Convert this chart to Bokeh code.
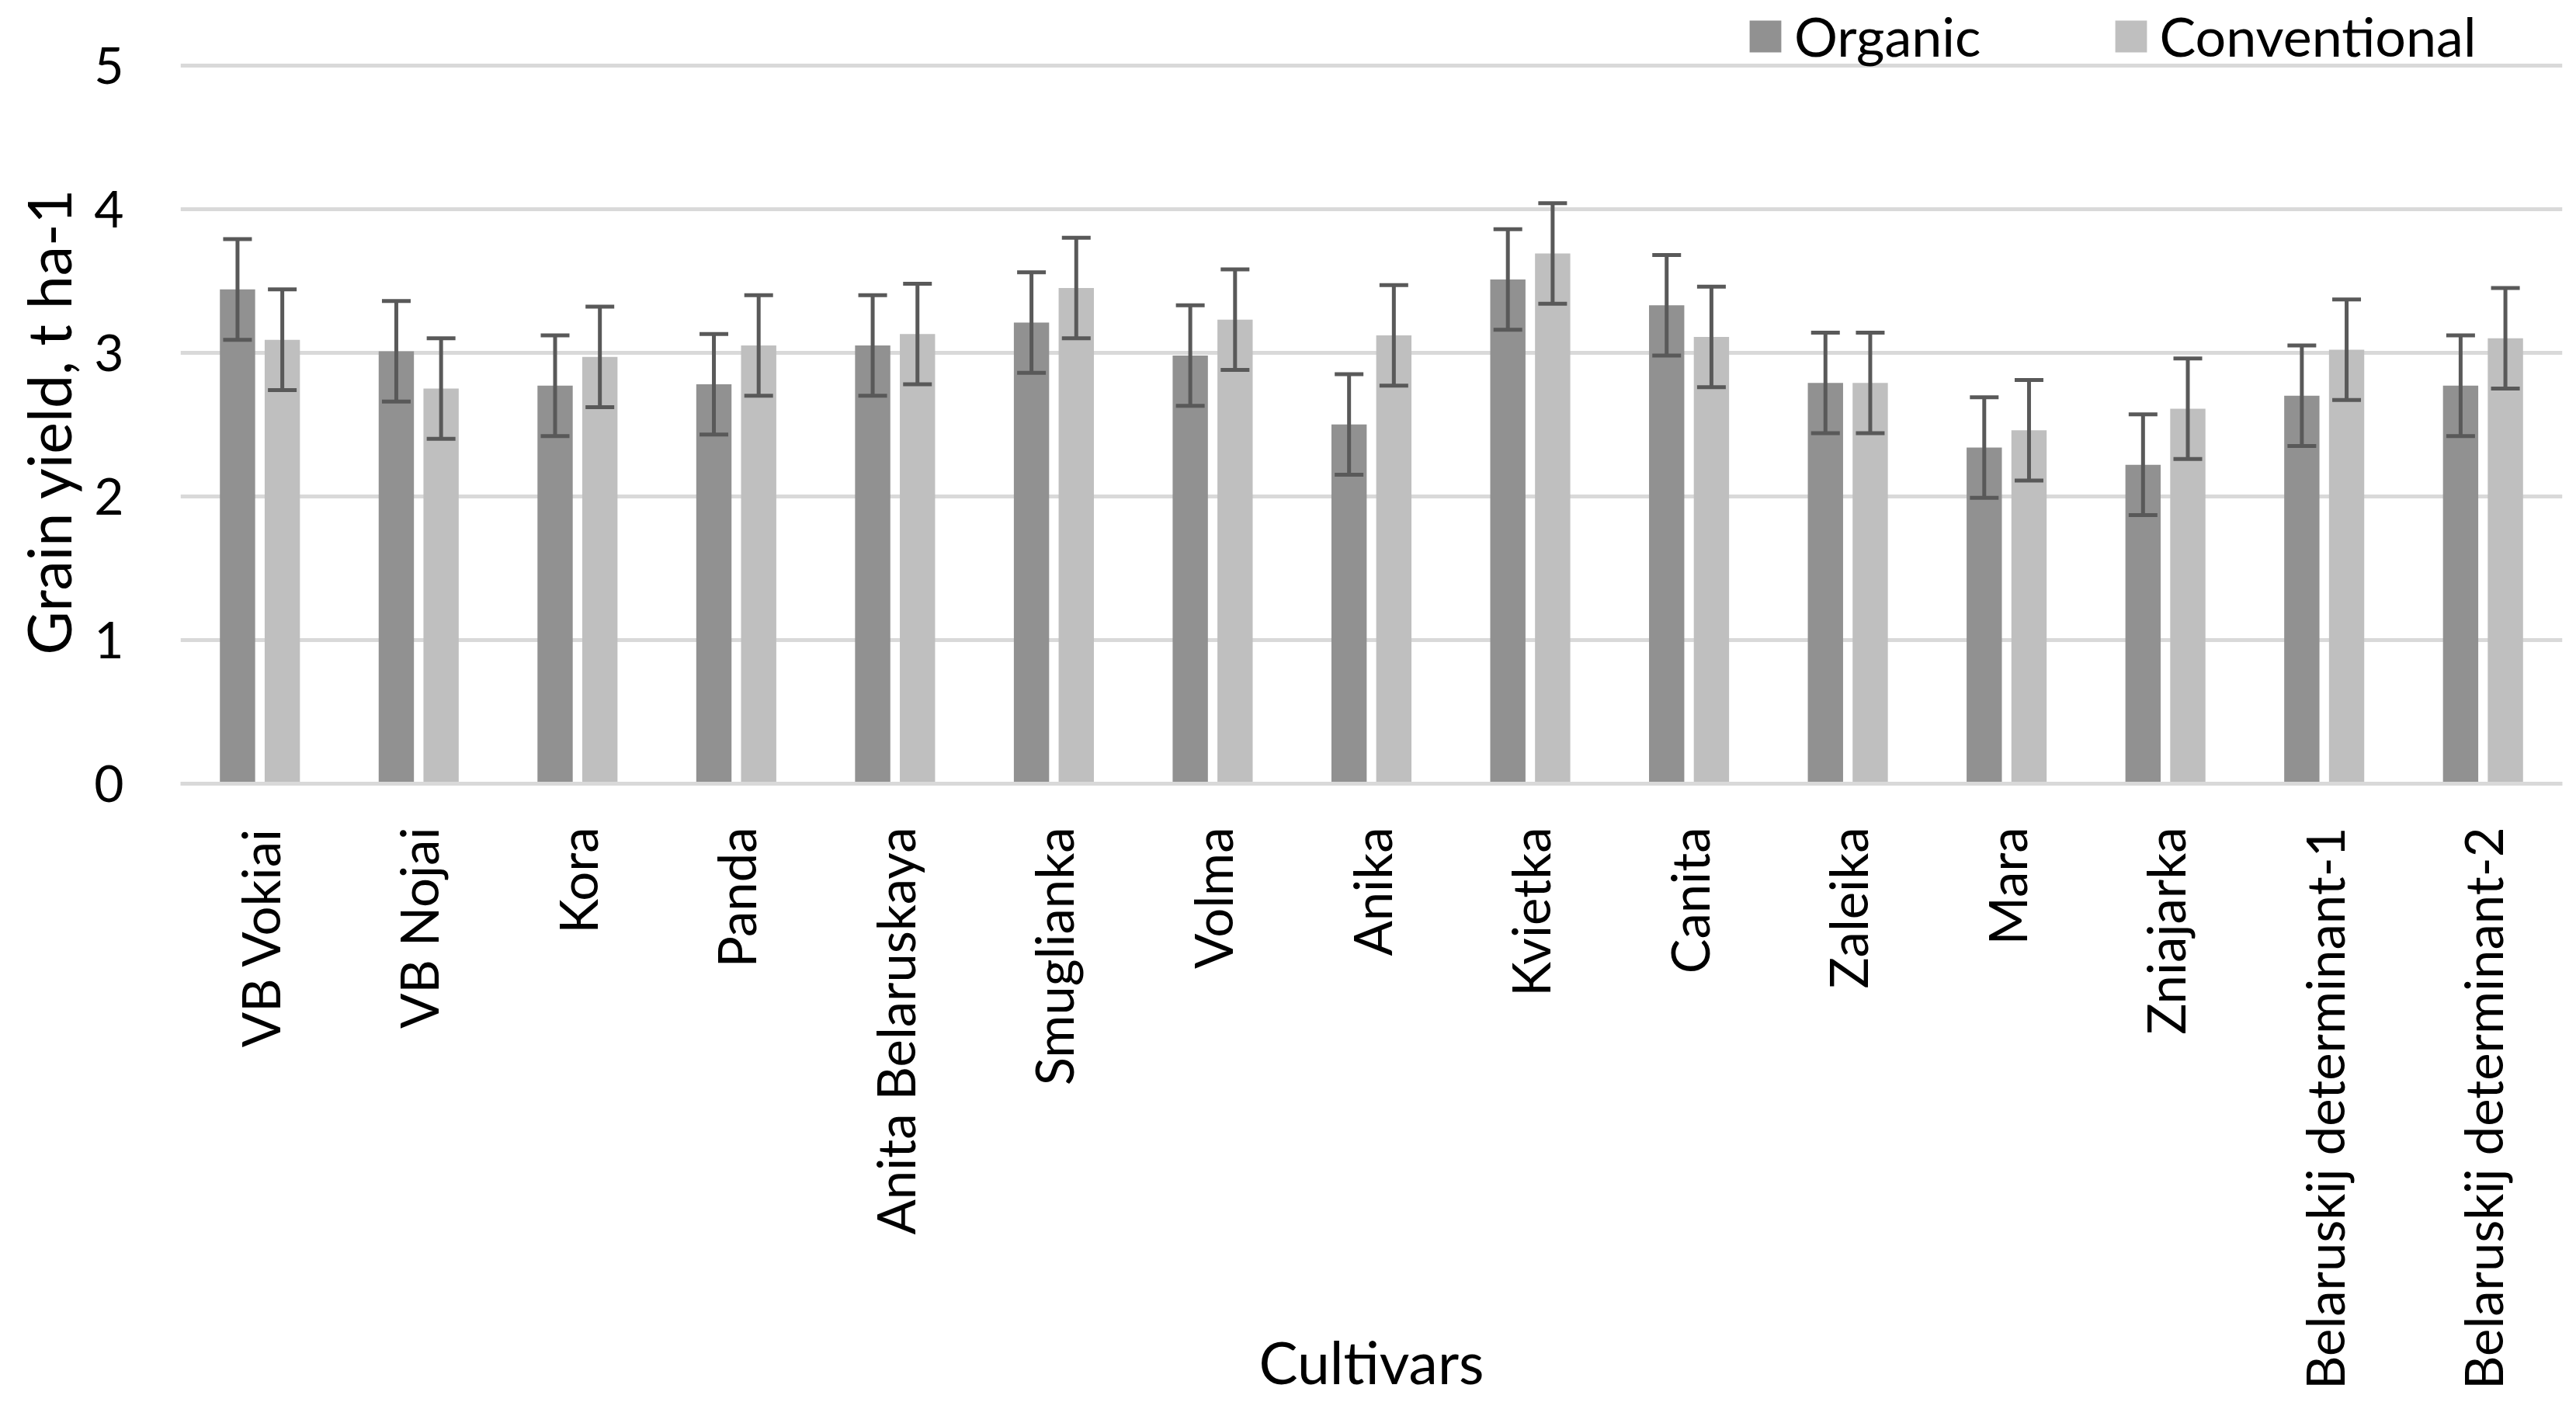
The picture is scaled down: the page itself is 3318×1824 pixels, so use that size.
import math
from bokeh.plotting import figure
from bokeh.models import ColumnDataSource, FixedTicker, Whisker, TeeHead, Title
from bokeh.transform import dodge
from bokeh.embed import file_html
from bokeh.resources import INLINE

cultivars = ["VB Vokiai", "VB Nojai", "Kora", "Panda", "Anita Belaruskaya", "Smuglianka",
             "Volma", "Anika", "Kvietka", "Canita", "Zaleika", "Mara", "Zniajarka",
             "Belaruskij determinant-1", "Belaruskij determinant-2"]
organic = [3.44, 3.01, 2.77, 2.78, 3.05, 3.21, 2.98, 2.50, 3.51, 3.33, 2.79, 2.34, 2.22, 2.70, 2.77]
conventional = [3.09, 2.75, 2.97, 3.05, 3.13, 3.45, 3.23, 3.12, 3.69, 3.11, 2.79, 2.46, 2.61, 3.02, 3.10]
organic_err = [0.35, 0.35, 0.35, 0.35, 0.35, 0.35, 0.35, 0.35, 0.35, 0.35, 0.35, 0.35, 0.35, 0.35, 0.35]
conventional_err = [0.35, 0.35, 0.35, 0.35, 0.35, 0.35, 0.35, 0.35, 0.35, 0.35, 0.35, 0.35, 0.35, 0.35, 0.35]
y_ticks = [0, 1, 2, 3, 4, 5]

FONT = "Lato"
ORG_COLOR = "#919191"
CONV_COLOR = "#bfbfbf"
ERR_COLOR = "#595959"
GRID_COLOR = "#d9d9d9"

src = ColumnDataSource(dict(
    cultivar=cultivars,
    organic=organic,
    conventional=conventional,
    org_hi=[v + e for v, e in zip(organic, organic_err)],
    org_lo=[v - e for v, e in zip(organic, organic_err)],
    conv_hi=[v + e for v, e in zip(conventional, conventional_err)],
    conv_lo=[v - e for v, e in zip(conventional, conventional_err)],
))

# y range extended above 5 so the legend above the top gridline stays inside the frame
p = figure(x_range=cultivars, y_range=(0, 5.452), width=3302, height=1808,
           output_backend="svg", toolbar_location=None,
           min_border_left=232, min_border_right=2, min_border_top=0, min_border_bottom=799)
p.outline_line_color = None
p.background_fill_color = "white"
p.border_fill_color = "white"

OFF = 0.141
BW = 0.222
p.vbar(x=dodge("cultivar", -OFF, range=p.x_range), top="organic", width=BW, source=src,
       fill_color=ORG_COLOR, line_color=None, legend_label="Organic")
p.vbar(x=dodge("cultivar", OFF, range=p.x_range), top="conventional", width=BW, source=src,
       fill_color=CONV_COLOR, line_color=None, legend_label="Conventional")

for off, hi, lo in [(-OFF, "org_hi", "org_lo"), (OFF, "conv_hi", "conv_lo")]:
    w = Whisker(base=dodge("cultivar", off, range=p.x_range), upper=hi, lower=lo, source=src,
                line_color=ERR_COLOR, line_width=5,
                upper_head=TeeHead(size=37, line_color=ERR_COLOR, line_width=5),
                lower_head=TeeHead(size=37, line_color=ERR_COLOR, line_width=5))
    w.level = "overlay"
    p.add_layout(w)

# grid
p.xgrid.grid_line_color = None
p.ygrid.grid_line_color = GRID_COLOR
p.ygrid.grid_line_width = 5
p.yaxis.ticker = FixedTicker(ticks=y_ticks)

# axes
p.yaxis.axis_line_color = None
p.yaxis.major_tick_line_color = None
p.yaxis.minor_tick_line_color = None
p.yaxis.major_label_text_font = FONT
p.yaxis.major_label_text_font_size = "66px"
p.yaxis.major_label_text_color = "black"
p.yaxis.major_label_standoff = 67

ytitle = Title(text="Grain yield, t ha-1", align="left", offset=166, standoff=20,
               vertical_align="middle",
               text_font=FONT, text_font_size="77px", text_font_style="normal",
               text_color="black")
p.add_layout(ytitle, "left")

p.xaxis.axis_line_color = GRID_COLOR
p.xaxis.axis_line_width = 5
p.xaxis.major_tick_line_color = None
p.xaxis.minor_tick_line_color = None
p.xaxis.major_label_orientation = math.pi / 2
p.xaxis.major_label_text_font = FONT
p.xaxis.major_label_text_font_size = "67px"
p.xaxis.major_label_text_color = "black"
p.xaxis.major_label_standoff = 50
p.xaxis.axis_label = "Cultivars"
p.xaxis.axis_label_text_font = FONT
p.xaxis.axis_label_text_font_size = "75px"
p.xaxis.axis_label_text_font_style = "normal"
p.xaxis.axis_label_text_color = "black"
p.xaxis.axis_label_standoff = -84

# legend
lg = p.legend[0]
lg.orientation = "horizontal"
lg.location = (2016, 921)
lg.margin = 0
lg.padding = 0
lg.spacing = 167
lg.glyph_width = 51
lg.glyph_height = 51
lg.label_standoff = 12
lg.label_text_font = FONT
lg.label_text_font_size = "70px"
lg.label_text_color = "black"
lg.border_line_color = None
lg.background_fill_alpha = 0

open("out.html", "w").write(file_html(p, INLINE))
